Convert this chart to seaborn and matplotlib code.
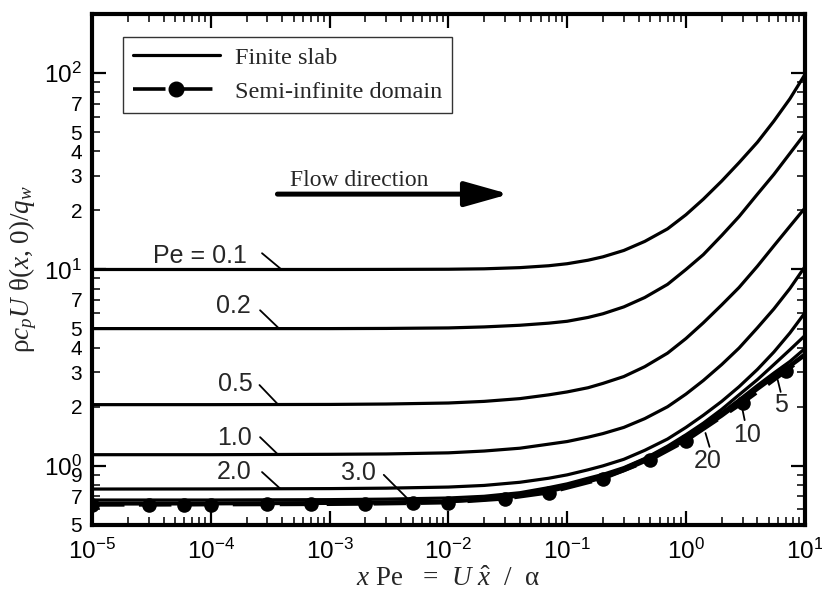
import matplotlib
matplotlib.use("Agg")
import matplotlib.pyplot as plt
from matplotlib.ticker import FixedLocator, FixedFormatter
from matplotlib.lines import Line2D
import pandas as pd
import seaborn as sns

# ---- data: dimensionless wall temperature vs x*Pe ----
x_grid = [1e-5, 1e-4, 1e-3, 3e-3, 1e-2, 2e-2, 4e-2, 7e-2, 0.1, 0.15, 0.2, 0.3, 0.45,
          0.7, 1, 1.4, 2, 2.8, 4, 5.5, 7.5, 10]

theta_pe_0_1 = [10.0, 10.0, 10.0, 10.01, 10.03, 10.08, 10.22, 10.45, 10.7, 11.15, 11.6,
                12.5, 13.9, 16.1, 19.0, 22.8, 28.2, 35.0, 44.5, 57.0, 74.0, 98.0]
theta_pe_0_2 = [5.0, 5.0, 5.0, 5.01, 5.04, 5.1, 5.2, 5.33, 5.45, 5.7, 5.95,
                6.45, 7.2, 8.4, 10.0, 11.9, 14.9, 18.6, 24.2, 30.5, 39.0, 49.0]
theta_pe_0_5 = [2.05, 2.05, 2.055, 2.065, 2.09, 2.13, 2.2, 2.3, 2.38, 2.5, 2.63,
                2.85, 3.2, 3.75, 4.45, 5.35, 6.6, 8.1, 10.4, 13.2, 16.6, 20.5]
theta_pe_1 = [1.14, 1.14, 1.145, 1.15, 1.165, 1.19, 1.23, 1.29, 1.33, 1.4, 1.46,
              1.57, 1.74, 2.0, 2.32, 2.72, 3.28, 3.98, 5.05, 6.3, 8.0, 10.3]
theta_pe_2 = [0.762, 0.763, 0.766, 0.77, 0.78, 0.795, 0.825, 0.865, 0.9, 0.955, 1.0,
              1.08, 1.2, 1.37, 1.57, 1.81, 2.13, 2.53, 3.1, 3.8, 4.75, 6.0]
theta_pe_3 = [0.67, 0.67, 0.673, 0.677, 0.686, 0.70, 0.73, 0.775, 0.81, 0.865, 0.905,
              0.98, 1.09, 1.26, 1.44, 1.65, 1.94, 2.3, 2.75, 3.28, 3.9, 4.6]
theta_pe_5 = [0.646, 0.647, 0.65, 0.655, 0.663, 0.68, 0.713, 0.752, 0.795, 0.849, 0.892,
              0.973, 1.085, 1.245, 1.405, 1.61, 1.865, 2.17, 2.57, 2.97, 3.4, 3.95]
theta_pe_10 = [0.642, 0.643, 0.646, 0.65, 0.658, 0.675, 0.706, 0.743, 0.785, 0.836, 0.877,
               0.955, 1.063, 1.218, 1.373, 1.57, 1.815, 2.11, 2.49, 2.87, 3.26, 3.72]
theta_pe_20 = [0.64, 0.641, 0.644, 0.648, 0.656, 0.672, 0.702, 0.738, 0.778, 0.829, 0.869,
               0.945, 1.051, 1.203, 1.355, 1.55, 1.79, 2.08, 2.45, 2.82, 3.2, 3.64]

pe_names = ["0.1", "0.2", "0.5", "1.0", "2.0", "3.0", "5", "10", "20"]
slab_curves = [theta_pe_0_1, theta_pe_0_2, theta_pe_0_5, theta_pe_1, theta_pe_2,
               theta_pe_3, theta_pe_5, theta_pe_10, theta_pe_20]

semi_x = [1e-5, 3e-5, 6e-5, 1e-4, 3e-4, 7e-4, 2e-3, 5e-3, 1e-2, 3e-2, 7e-2,
          0.2, 0.5, 1, 3, 7]
semi_y = [0.633, 0.633, 0.634, 0.635, 0.636, 0.637, 0.64, 0.645, 0.65, 0.68, 0.73,
          0.86, 1.07, 1.34, 2.09, 3.04]
semi_end_x = 10
semi_end_y = 3.6

# curve labels: (text, text position, leader start, leader end)
curve_labels = [
    ("Pe = 0.1", (8.1e-5, 11.7), (2.7e-4, 12.1), (3.9e-4, 10.05)),
    ("0.2", (1.55e-4, 6.5), (2.6e-4, 6.2), (3.7e-4, 5.05)),
    ("0.5", (1.6e-4, 2.61), (2.57e-4, 2.58), (3.64e-4, 2.07)),
    ("1.0", (1.58e-4, 1.39), (2.6e-4, 1.40), (3.64e-4, 1.15)),
    ("2.0", (1.58e-4, 0.93), (2.7e-4, 0.93), (3.85e-4, 0.765)),
    ("3.0", (1.76e-3, 0.92), (2.86e-3, 0.90), (4.47e-3, 0.687)),
    ("5", (6.27, 2.04), (6.27, 2.38), (5.92, 2.74)),
    ("10", (3.24, 1.44), (3.12, 1.71), (2.94, 2.04)),
    ("20", (1.52, 1.06), (1.58, 1.25), (1.46, 1.47)),
]

x_major = [1e-5, 1e-4, 1e-3, 1e-2, 1e-1, 1e0, 1e1]
x_major_labels = ["-5", "-4", "-3", "-2", "-1", "0", "1"]
y_major = [1, 10, 100]
y_major_labels = ["0", "1", "2"]
y_minor_labeled = {0.5: "5", 0.7: "7", 0.9: "9", 2: "2", 3: "3", 4: "4", 5: "5", 7: "7",
                   20: "2", 30: "3", 40: "4", 50: "5", 70: "7"}

# ---- style ----
sns.set_style("ticks")
plt.rcParams["font.family"] = ["Liberation Sans", "DejaVu Sans"]
plt.rcParams["mathtext.fontset"] = "custom"
plt.rcParams["mathtext.rm"] = "Liberation Serif"
plt.rcParams["mathtext.it"] = "Liberation Serif:italic"
plt.rcParams["mathtext.bf"] = "Liberation Serif:bold"

fig = plt.figure(figsize=(8.22, 5.98), dpi=100)
ax = fig.add_axes([0.1119, 0.1221, 0.8671, 0.8545])
ax.set_xscale("log")
ax.set_yscale("log")

rows = []
for name, vals in zip(pe_names, slab_curves):
    for xv, yv in zip(x_grid, vals):
        rows.append({"x": xv, "theta": yv, "Pe": name})
slab_df = pd.DataFrame(rows)

sns.lineplot(data=slab_df, x="x", y="theta", units="Pe", estimator=None,
             color="black", lw=2.3, ax=ax, legend=False, sort=True)

semi_df = pd.DataFrame({"x": semi_x + [semi_end_x], "theta": semi_y + [semi_end_y]})
sns.lineplot(data=semi_df, x="x", y="theta", color="black", lw=2.6,
             dashes=False, ax=ax, legend=False)
ax.lines[-1].set_dashes([9, 4])
sns.scatterplot(x=semi_x, y=semi_y, color="black", s=110, edgecolor="black",
                linewidth=0, ax=ax, legend=False, zorder=5)

ax.set_xlim(1e-5, 1e1)
ax.set_ylim(0.5, 200)

# ticks
ax.xaxis.set_major_locator(FixedLocator(x_major))
ax.xaxis.set_major_formatter(FixedFormatter(
    [r"$\mathregular{10^{%s}}$" % s for s in x_major_labels]))
x_minor = [m * 10.0 ** e for e in range(-5, 1) for m in range(2, 10)]
ax.xaxis.set_minor_locator(FixedLocator(x_minor))
ax.xaxis.set_minor_formatter(FixedFormatter([""] * len(x_minor)))

ax.yaxis.set_major_locator(FixedLocator(y_major))
ax.yaxis.set_major_formatter(FixedFormatter(
    [r"$\mathregular{10^{%s}}$" % s for s in y_major_labels]))
y_minor = [round(m * 10.0 ** e, 6) for e in range(-1, 3) for m in range(2, 10)
           if 0.5 <= m * 10.0 ** e <= 200 and m * 10.0 ** e not in (1, 10, 100)]
ax.yaxis.set_minor_locator(FixedLocator(y_minor))
ax.yaxis.set_minor_formatter(FixedFormatter([y_minor_labeled.get(v, "") for v in y_minor]))

ax.tick_params(which="both", direction="in", top=True, right=True, colors="black")
ax.tick_params(which="major", length=10, width=1.6, labelsize=17.5, pad=7)
ax.tick_params(which="minor", length=6, width=1.1, labelsize=15, pad=7)
ax.tick_params(axis="x", which="both", pad=10)
for sp in ax.spines.values():
    sp.set_linewidth(3.0)
    sp.set_color("black")

# axis labels
ax.set_xlabel(r"$x$ Pe   =  $U\ \hat{x}$  /  α", fontsize=19.5, family="Liberation Serif",
              labelpad=2)
ax.set_ylabel(r"ρ$c_p$$U$ θ($x$, 0)/$q_w$", fontsize=19.5, family="Liberation Serif",
              labelpad=4)

# curve labels with leader lines
for text, tpos, l0, l1 in curve_labels:
    ax.text(tpos[0], tpos[1], text, fontsize=18, ha="center", va="center",
            family="Liberation Sans")
    ax.plot([l0[0], l1[0]], [l0[1], l1[1]], color="black", lw=1.3)

# flow direction arrow
ax.annotate("", xy=(3.25e-2, 24.2), xytext=(3.64e-4, 24.2),
            arrowprops=dict(arrowstyle="-|>,head_length=1.35,head_width=0.38",
                            mutation_scale=20, lw=3.6, color="black",
                            shrinkA=0, shrinkB=0))
ax.text(1.76e-3, 28.5, "Flow direction", fontsize=17, ha="center", va="center",
        family="Liberation Serif")

# legend
handles = [
    Line2D([], [], color="black", lw=2.3),
    Line2D([], [], color="black", lw=2.6, dashes=[9, 4], marker="o", markersize=10.5),
]
leg = ax.legend(handles, ["Finite slab", "Semi-infinite domain"],
                loc="upper left", bbox_to_anchor=(0.0435, 0.955), borderaxespad=0,
                prop={"family": "Liberation Serif", "size": 17.5},
                handlelength=3.6, handletextpad=0.6, borderpad=0.4,
                labelspacing=0.5, fancybox=False, framealpha=1,
                edgecolor="#333333")
leg.get_frame().set_linewidth(1.0)

fig.savefig("out.png", dpi=100)
